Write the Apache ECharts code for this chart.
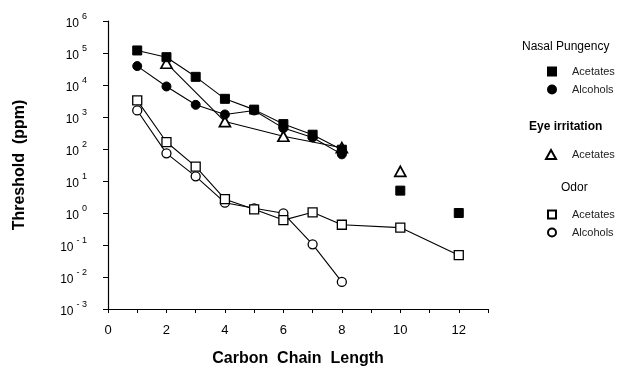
<!DOCTYPE html>
<html>
<head>
<meta charset="utf-8">
<script src="https://cdn.jsdelivr.net/npm/echarts@6/dist/echarts.min.js"></script>
<style>
  html, body { margin: 0; padding: 0; background: #fff; }
  #chart { width: 636px; height: 372px; }
</style>
</head>
<body>
<div id="chart"></div>
<script>
// carbon chain length for the connected runs
var carbon = [1, 2, 3, 4, 5, 6, 7, 8];
var carbonOdorAc = [1, 2, 3, 4, 5, 6, 7, 8, 10, 12];
var carbonEye = [2, 4, 6, 8];

// thresholds (ppm)
var npAcetates = [120000, 74000, 18000, 3700, 1700, 600, 280, 95];
var npAcetatesLongX = [10, 12];
var npAcetatesLong = [5, 1.0];
var npAlcohols = [39000, 9000, 2400, 1200, 1600, 450, 230, 68];
var eyeAcetates = [48000, 720, 250, 110];
var eyeLongX = [10];
var eyeLong = [20];
var odorAcetates = [3300, 165, 28, 2.7, 1.3, 0.6, 1.05, 0.43, 0.35, 0.048];
var odorAlcohols = [1600, 73, 14, 2.1, 1.4, 0.98, 0.105, 0.007];

var xTicks = [0, 2, 4, 6, 8, 10, 12];

var names = {
    npAc: 'Acetates', npAl: 'Alcohols', eyeAc: 'Acetates', odAc: 'Acetates', odAl: 'Alcohols'
};

function pairs(xs, ys) {
    return xs.map(function (x, i) { return [x, ys[i]]; });
}

var font = 'Liberation Sans, Arial, sans-serif';
var filled = { color: '#000', borderColor: '#000', borderWidth: 1, opacity: 1 };
var hollow = { color: '#fff', borderColor: '#000', borderWidth: 1.3, opacity: 1 };
var hollowTri = { color: '#fff', borderColor: '#000', borderWidth: 1.7, opacity: 1 };
var line = { color: '#000', width: 1.1 };

var myChart = echarts.init(document.getElementById('chart'));
var option = {
    animation: false,
    textStyle: { fontFamily: font },
    grid: { left: 108, top: 21, right: 148, bottom: 63, containLabel: false },
    xAxis: {
        type: 'value',
        min: 0, max: 13, interval: 1,
        name: 'Carbon  Chain  Length',
        nameLocation: 'middle',
        nameGap: 42,
        nameTextStyle: { fontSize: 16, fontWeight: 'bold', color: '#000', fontFamily: font },
        axisLine: { lineStyle: { color: '#000', width: 1.2 } },
        axisTick: { length: 4, lineStyle: { color: '#000' } },
        splitLine: { show: false },
        axisLabel: {
            fontSize: 13, color: '#000', margin: 15,
            formatter: function (v) { return xTicks.indexOf(v) >= 0 ? String(v) : ''; }
        }
    },
    yAxis: {
        type: 'log', logBase: 10,
        min: 0.001, max: 1000000, interval: 1,
        name: 'Threshold  (ppm)',
        nameLocation: 'middle',
        nameGap: 80,
        nameTextStyle: { fontSize: 16, fontWeight: 'bold', color: '#000', fontFamily: font },
        axisLine: { lineStyle: { color: '#000', width: 1.2 } },
        axisTick: { length: 5, lineStyle: { color: '#000' } },
        minorTick: { show: false },
        splitLine: { show: false },
        axisLabel: {
            margin: 21,
            formatter: function (v) {
                var e = Math.round(Math.log10(v));
                return '{b|10}{s|' + (e < 0 ? '- ' + (-e) : e) + '}';
            },
            rich: {
                b: { fontSize: 12, color: '#000', fontFamily: font, verticalAlign: 'bottom', lineHeight: 18 },
                s: { fontSize: 9, color: '#000', fontFamily: font, verticalAlign: 'top', lineHeight: 18, padding: [0, 0, 0, 3] }
            }
        }
    },
    legend: [
        {
            orient: 'vertical', left: 542, top: 61, itemGap: 7,
            itemWidth: 8, itemHeight: 8,
            textStyle: { fontSize: 11, color: '#222', padding: [0, 0, 0, 11] },
            formatter: function (n) { return names[n]; },
            data: [{ name: 'npAc', icon: 'rect' }, { name: 'npAl', icon: 'circle' }]
        },
        {
            orient: 'vertical', left: 540, top: 144, itemGap: 6,
            itemWidth: 10, itemHeight: 9,
            textStyle: { fontSize: 11, color: '#222', padding: [0, 0, 0, 11] },
            formatter: function (n) { return names[n]; },
            data: [{ name: 'eyeAc', icon: 'triangle' }]
        },
        {
            orient: 'vertical', left: 542, top: 204, itemGap: 7,
            itemWidth: 8, itemHeight: 8,
            textStyle: { fontSize: 11, color: '#222', padding: [0, 0, 0, 11] },
            formatter: function (n) { return names[n]; },
            data: [{ name: 'odAc', icon: 'rect' }, { name: 'odAl', icon: 'circle' }]
        }
    ],
    graphic: [
        { type: 'text', left: 522, top: 41, style: { text: 'Nasal Pungency', fontSize: 12, fontFamily: font, fill: '#000' } },
        { type: 'text', left: 529, top: 121, style: { text: 'Eye irritation', fontSize: 12, fontFamily: font, fill: '#000', fontWeight: 'bold' } },
        { type: 'text', left: 561, top: 182, style: { text: 'Odor', fontSize: 12, fontFamily: font, fill: '#000' } }
    ],
    series: [
        { name: 'odAl', type: 'line', data: pairs(carbon, odorAlcohols), symbol: 'circle', symbolSize: 9, itemStyle: hollow, lineStyle: line, z: 2 },
        { name: 'odAc', type: 'line', data: pairs(carbonOdorAc, odorAcetates), symbol: 'rect', symbolSize: 9, itemStyle: hollow, lineStyle: line, z: 3 },
        { name: 'eyeAc', type: 'line', data: pairs(carbonEye, eyeAcetates), symbol: 'triangle', symbolSize: [11, 10], itemStyle: hollowTri, lineStyle: line, z: 4 },
        { name: 'eyeAc', type: 'scatter', data: pairs(eyeLongX, eyeLong), symbol: 'triangle', symbolSize: [11, 10], itemStyle: hollowTri, z: 4 },
        { name: 'npAl', type: 'line', data: pairs(carbon, npAlcohols), symbol: 'circle', symbolSize: 9, itemStyle: filled, lineStyle: line, z: 5 },
        { name: 'npAc', type: 'line', data: pairs(carbon, npAcetates), symbol: 'rect', symbolSize: 9, itemStyle: filled, lineStyle: line, z: 6 },
        { name: 'npAc', type: 'scatter', data: pairs(npAcetatesLongX, npAcetatesLong), symbol: 'rect', symbolSize: 9, itemStyle: filled, z: 6 }
    ]
};
myChart.setOption(option);
</script>
</body>
</html>
